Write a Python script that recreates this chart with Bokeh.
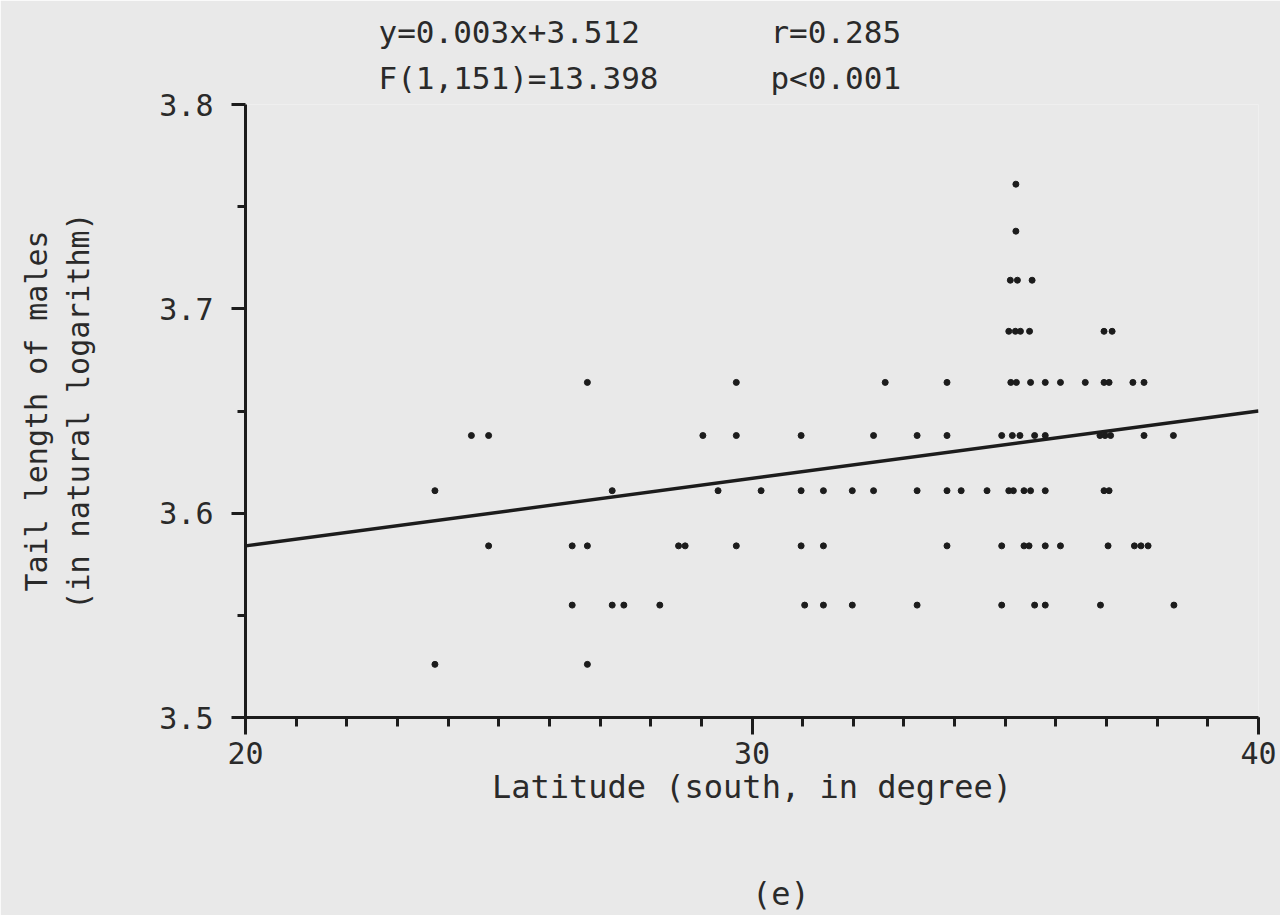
from bokeh.plotting import figure
from bokeh.models import Range1d, FixedTicker, Title
from bokeh.embed import file_html
from bokeh.resources import INLINE

# ---- data ----
latitude = [
    # ln tail 3.526
    23.74, 26.75,
    # 3.555
    26.45, 27.24, 27.47, 28.18, 31.04, 31.41, 31.98, 33.26, 34.93, 35.58, 35.79, 36.88, 38.33,
    # 3.584
    24.80, 26.45, 26.75, 28.55, 28.68, 29.69, 30.97, 31.41, 33.85, 34.93, 35.37, 35.47,
    35.79, 36.09, 37.03, 37.55, 37.68, 37.82,
    # 3.611
    23.74, 27.24, 29.33, 30.18, 30.97, 31.41, 31.98, 32.40, 33.26, 33.85, 34.13, 34.64,
    35.07, 35.16, 35.37, 35.50, 35.79, 36.95, 37.05,
    # 3.638
    24.46, 24.80, 29.03, 29.69, 30.97, 32.40, 33.26, 33.85, 34.93, 35.14, 35.29, 35.58,
    35.79, 36.87, 36.97, 37.08, 37.74, 38.32,
    # 3.664
    26.75, 29.69, 32.63, 33.85, 35.11, 35.22, 35.50, 35.79, 36.09, 36.58, 36.95, 37.05,
    37.52, 37.74,
    # 3.689
    35.07, 35.20, 35.30, 35.48, 36.95, 37.11,
    # 3.714
    35.10, 35.24, 35.53,
    # 3.738
    35.21,
    # 3.761
    35.21,
]
log_tail = (
    [3.526] * 2 + [3.555] * 13 + [3.584] * 18 + [3.611] * 19 + [3.638] * 18
    + [3.664] * 14 + [3.689] * 6 + [3.714] * 3 + [3.738] * 1 + [3.761] * 1
)

reg_x = [20, 40]
reg_y = [3.584, 3.650]

x_major = [20, 30, 40]
x_minor = list(range(20, 41))
y_major = [3.5, 3.6, 3.7, 3.8]
y_minor = [3.55, 3.65, 3.75]

stats_left = ["y=0.003x+3.512", "F(1,151)=13.398"]
stats_right = ["r=0.285", "p<0.001"]
x_title = "Latitude (south, in degree)"
panel_tag = "(e)"

FONT = "DejaVu Sans Mono"
INK = "#1c1c1c"
TXT = "#2a2a2a"
BG = "#e9e9e9"
NBSP = "\u00a0"

p = figure(width=1280, height=915, output_backend="svg", toolbar_location=None,
           x_range=Range1d(20, 40), y_range=Range1d(3.5, 3.8),
           min_border_left=245, min_border_right=22, min_border_top=104,
           min_border_bottom=197)
p.background_fill_color = BG
p.border_fill_color = BG
p.outline_line_color = None
p.xgrid.visible = False
p.ygrid.visible = False

for ax in (p.xaxis[0], p.yaxis[0]):
    ax.axis_line_width = 3
    ax.axis_line_color = INK
    ax.major_tick_line_width = 3
    ax.minor_tick_line_width = 3
    ax.major_tick_line_color = INK
    ax.minor_tick_line_color = INK
    ax.major_tick_in = 0
    ax.minor_tick_in = 0
    ax.major_label_text_font = FONT
    ax.major_label_text_font_size = "30px"
    ax.major_label_text_color = TXT
    ax.axis_label_text_font = FONT
    ax.axis_label_text_font_style = "normal"
    ax.axis_label_text_color = TXT

p.xaxis.ticker = FixedTicker(ticks=x_major, minor_ticks=x_minor)
p.xaxis.major_tick_out = 17
p.xaxis.minor_tick_out = 9
p.xaxis.major_label_standoff = 7
# panel tag "(e)" is set as a further line of the x-axis title, slightly right of centre
p.xaxis.axis_label = x_title + "\n\n" + NBSP * 3 + panel_tag
p.xaxis.axis_label_text_font_size = "32px"
p.xaxis.axis_label_text_line_height = 1.41
p.xaxis.axis_label_standoff = 1

p.yaxis.ticker = FixedTicker(ticks=y_major, minor_ticks=y_minor)
p.yaxis.major_tick_out = 14
p.yaxis.minor_tick_out = 8
p.yaxis.major_label_standoff = 18
p.yaxis.axis_label = "Tail length of males\n(in natural logarithm)"
p.yaxis.axis_label_text_font_size = "30px"
p.yaxis.axis_label_standoff = 60

p.line(reg_x, reg_y, line_width=3.5, line_color=INK)
p.scatter(latitude, log_tail, marker="circle", size=6, fill_color=INK, line_color=INK)

# statistics block above the plot (monospace, columns padded with no-break spaces)
pads = [7, 6]
stats_text = "\n".join(l + NBSP * n + r for l, r, n in zip(stats_left, stats_right, pads))
p.add_layout(Title(text=stats_text, align="left", offset=133, standoff=16,
                   text_font=FONT, text_font_size="31px", text_font_style="normal",
                   text_line_height=1.3, text_color=TXT), "above")

open("out.html", "w").write(file_html(p, INLINE))
